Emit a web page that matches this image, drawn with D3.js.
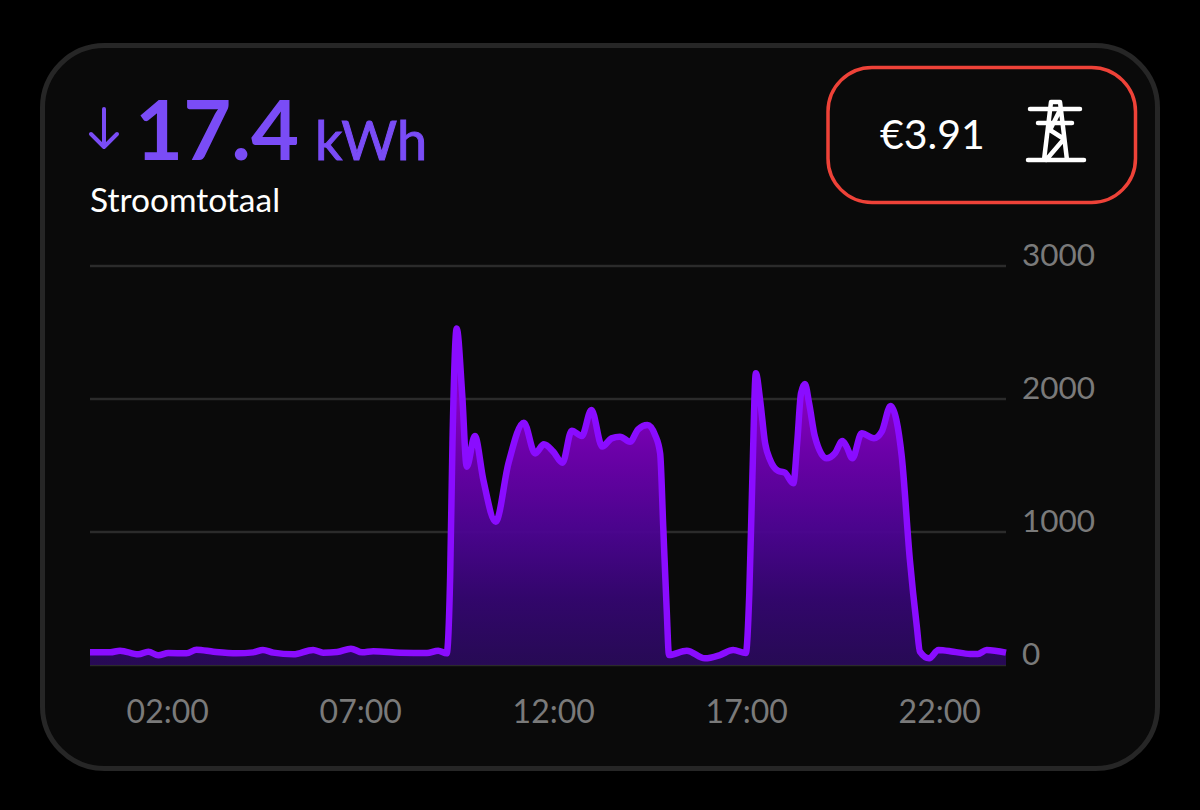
<!DOCTYPE html>
<html><head><meta charset="utf-8">
<script src="https://cdn.jsdelivr.net/npm/d3@7"></script>
<style>html,body{margin:0;padding:0;background:#000}svg{display:block}text{font-family:Lato,sans-serif}</style>
</head><body><svg id="c" width="1200" height="810"></svg>
<script>
const hours = [0,0.52,0.78,1.25,1.51,1.77,2.03,2.5,2.76,3.2,3.8,4.23,4.48,4.75,5.27,5.78,6.04,6.4,6.76,7.05,7.34,8.03,8.73,9.02,9.24,
 9.33,9.39,9.5,9.64,9.76,9.97,10.19,10.51,10.84,11.24,11.53,11.76,12.0,12.24,12.48,12.74,12.99,13.27,13.51,13.73,13.99,14.2,14.44,14.64,14.77,14.85,14.94,15.0,15.46,15.93,16.32,16.66,16.99,
 17.08,17.16,17.25,17.36,17.49,17.62,17.83,18.0,18.22,18.32,18.42,18.52,18.63,18.78,19.08,19.3,19.49,19.6,19.75,19.99,20.31,20.51,20.74,20.89,21.03,21.24,21.42,21.5,21.74,21.98,22.37,22.8,23.0,23.23,23.73];
const watts = [95,95,108,80,100,73,90,88,115,100,88,95,113,93,80,113,93,98,123,95,103,93,90,108,88,
 664,1667,2530,2043,1491,1722,1391,1078,1516,1822,1591,1659,1604,1521,1762,1722,1917,1642,1704,1717,1679,1772,1805,1729,1591,1040,414,75,108,50,75,113,90,
 541,1416,2193,1992,1667,1541,1459,1446,1366,1667,2043,2113,1967,1717,1554,1593,1684,1642,1554,1742,1704,1754,1947,1842,1566,789,288,100,50,113,100,83,83,113,93];
const yTicks = [0,1000,2000,3000];
const xTickHours = [2,7,12,17,22];
const xTickLabels = ["02:00","07:00","12:00","17:00","22:00"];
const headline = {value:"17.4", unit:"kWh", label:"Stroomtotaal", cost:"€3.91"};

const svg = d3.select("#c");
const defs = svg.append("defs");
const x = d3.scaleLinear().domain([0,23.73]).range([90,1006]);
const y = d3.scaleLinear().domain([0,3000]).range([665,266]);

const g = defs.append("linearGradient").attr("id","fill").attr("gradientUnits","userSpaceOnUse")
  .attr("x1",0).attr("x2",0).attr("y1",y(2000)).attr("y2",y(0));
[[0,"#8c00c8"],[0.2,"#7000b0"],[0.5,"#4c0492"],[0.75,"#340670"],[1,"#280a58"]].forEach(s=>
  g.append("stop").attr("offset",s[0]).attr("stop-color",s[1]).attr("stop-opacity",0.95));

svg.append("rect").attr("width",1200).attr("height",810).attr("fill","#000");
svg.append("rect").attr("x",42.5).attr("y",45.5).attr("width",1115).attr("height",723).attr("rx",62)
  .attr("fill","#0a0a0a").attr("stroke","#262626").attr("stroke-width",5);

// grid
svg.append("g").selectAll("line").data(yTicks).join("line")
  .attr("x1",x.range()[0]).attr("x2",x.range()[1]).attr("y1",d=>y(d)).attr("y2",d=>y(d))
  .attr("stroke","#2b2b2b").attr("stroke-width",2.5);

// series
const pts = hours.map((h,i)=>[h,watts[i]]);
svg.append("path").datum(pts).attr("fill","url(#fill)")
  .attr("d",d3.area().x(d=>x(d[0])).y0(y(0)).y1(d=>y(d[1])).curve(d3.curveMonotoneX));
svg.append("path").datum(pts).attr("fill","none").attr("stroke","#8a0cff").attr("stroke-width",6.5).attr("stroke-linejoin","round").attr("stroke-linecap","butt")
  .attr("d",d3.line().x(d=>x(d[0])).y(d=>y(d[1])).curve(d3.curveMonotoneX));

// axes
const ax = svg.append("g").attr("transform","translate(0,712)")
  .call(d3.axisBottom(x).tickValues(xTickHours).tickFormat((d,i)=>xTickLabels[i]).tickSize(0).tickPadding(0));
ax.select(".domain").remove();
ax.selectAll("text").attr("dy","0.35em").attr("fill","#7a7a7a").style("font-family","Lato").style("font-size","32px");
const ay = svg.append("g").attr("transform","translate(1022,0)")
  .call(d3.axisRight(y).tickValues(yTicks).tickSize(0).tickPadding(0).tickFormat(d3.format("d")));
ay.select(".domain").remove();
ay.selectAll("text").attr("dy","0").attr("fill","#7a7a7a").style("font-family","Lato").style("font-size","31.5px")
  .attr("y",-8).attr("dominant-baseline","middle");

// headline
const purple="#7a4cf6";
svg.append("path").attr("d","M104 109V147M91 134L104 147L117 134").attr("fill","none").attr("stroke",purple).attr("stroke-width",4).attr("stroke-linecap","round").attr("stroke-linejoin","round");
svg.append("text").attr("x",135).attr("y",160).attr("fill",purple).attr("font-size",83).attr("font-weight",700).text(headline.value);
svg.append("text").attr("x",315).attr("y",160).attr("fill",purple).attr("font-size",54).attr("font-weight",400).attr("stroke",purple).attr("stroke-width",1).text(headline.unit);
svg.append("text").attr("x",90).attr("y",212).attr("fill","#fff").attr("font-size",33.5).text(headline.label);

// cost box
svg.append("rect").attr("x",828).attr("y",67.5).attr("width",307.5).attr("height",135).attr("rx",44)
  .attr("fill","#0a0a0a").attr("stroke","#ee4238").attr("stroke-width",3.5);
svg.append("text").attr("x",880).attr("y",149).attr("fill","#fff").attr("font-size",41).text(headline.cost);
svg.append("path").attr("d","M1030 109H1080M1038 123H1072M1028 160H1084M1051 102H1060M1051 102L1044 160M1060 102L1067 160M1059 112L1050 130L1064 139L1046 160")
  .attr("fill","none").attr("stroke","#fff").attr("stroke-width",4.5).attr("stroke-linecap","round").attr("stroke-linejoin","round");
</script></body></html>
